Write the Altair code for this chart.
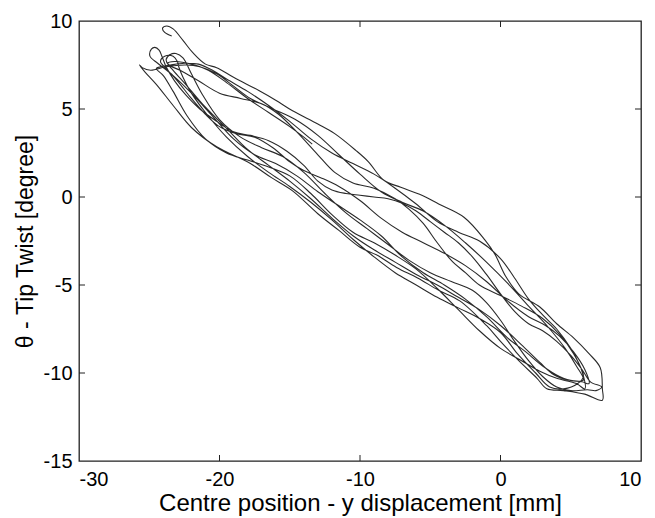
import altair as alt
import pandas as pd

# ---- trajectory branches (x = displacement [mm], y = twist [deg]) ----
d1 = [(-23.4,9.15),(-23.9,9.35),(-24.05,9.6),(-23.75,9.72),(-23.3,9.55),(-22.6,8.9),(-21.9,8.2),
      (-21.0,7.55),(-20.2,7.35),(-19.0,6.8),(-17.2,6.05),(-16.0,5.5),(-14.8,4.9),(-13.0,4.15),
      (-11.8,3.6),(-10.3,2.65),(-9.4,2.0),(-8.3,0.95),(-7.1,0.55),(-5.6,0.1),(-4.4,-0.4),
      (-2.6,-1.15),(-1.1,-2.45),(-0.4,-3.25),(0.4,-4.55),(1.3,-5.5),(2.8,-6.25),(4.0,-7.2),
      (5.2,-8.0),(6.3,-8.9),(7.1,-9.7),(7.25,-10.9),(7.25,-11.55)]
a1 = [(6.0,-11.2),(4.5,-11.0),(3.3,-10.9),(2.6,-10.3),(1.3,-9.3),(0.0,-8.2),(-1.0,-7.3),
      (-2.9,-5.9),(-4.4,-5.3),(-5.9,-4.6),(-7.4,-4.0),(-8.8,-3.3),(-10.0,-2.85),(-11.5,-1.9),
      (-13.0,-0.95),(-14.8,0.35),(-16.3,1.1),(-17.8,1.9),(-20.2,2.85),(-22.0,3.95),(-23.3,5.2),
      (-24.5,6.4),(-25.3,7.1),(-25.7,7.5)]
d2 = [(-25.5,7.35),(-24.9,7.2),(-23.8,7.4),(-22.4,7.5),(-21.4,7.4),(-20.2,7.0),(-19.0,6.3),
      (-17.8,5.6),(-16.2,5.0),(-14.6,4.4),(-13.0,3.5),(-11.5,2.4),(-10.0,1.3),(-8.5,0.3),
      (-7.0,-0.3),(-5.5,-0.8),(-4.0,-1.6),(-2.5,-2.6),(-1.0,-3.7),(0.5,-4.9),(2.0,-6.2),
      (3.4,-7.4),(4.6,-8.6),(5.4,-9.6),(5.9,-10.4)]
a2 = [(5.2,-10.45),(4.2,-10.2),(3.0,-9.6),(1.8,-8.8),(0.5,-8.0),(-1.0,-6.8),(-2.5,-5.8),
      (-4.0,-5.0),(-5.5,-4.3),(-7.0,-3.4),(-8.5,-2.2),(-10.0,-1.3),(-11.5,-0.5),(-13.0,0.3),
      (-14.5,1.2),(-16.0,1.9),(-17.5,2.4),(-19.0,3.3),(-20.5,4.6),(-22.0,5.9),(-23.3,6.9),
      (-24.4,7.6),(-24.95,8.0),(-24.85,8.4),(-24.6,8.5),(-24.3,8.35)]
d3 = [(-24.1,8.0),(-23.8,7.4),(-23.2,6.6),(-22.4,5.8),(-21.4,5.0),(-20.2,4.3),(-19.0,3.7),
      (-17.8,3.5),(-16.5,3.2),(-15.2,2.6),(-14.0,1.8),(-13.0,0.9),(-12.0,0.4),(-11.0,0.2),
      (-10.0,0.1),(-9.0,0.0),(-8.0,-0.1),(-7.0,-0.35),(-6.0,-0.8),(-5.0,-1.4),(-4.0,-2.0),
      (-3.0,-2.6),(-2.0,-3.4),(-1.0,-4.4),(0.0,-5.5),(1.0,-6.5),(2.0,-7.2),(3.0,-7.6),
      (4.0,-8.2),(5.0,-9.0),(5.8,-9.8),(6.4,-10.5),(7.2,-10.8)]
a3 = [(6.8,-11.0),(6.2,-10.95),(5.0,-11.0),(4.0,-10.8),(3.0,-10.2),(2.0,-9.3),(1.0,-8.2),
      (0.0,-7.0),(-1.0,-6.0),(-2.0,-5.3),(-3.5,-4.8),(-5.0,-4.3),(-6.5,-3.6),(-8.0,-2.7),
      (-9.5,-1.8),(-11.0,-0.9),(-12.5,0.2),(-14.0,1.4),(-15.5,2.3),(-17.0,2.8),(-18.5,3.4),
      (-20.0,4.4),(-21.2,5.8),(-22.0,7.0),(-22.6,7.9),(-23.1,8.15)]
d4 = [(-23.5,8.1),(-23.8,7.8),(-23.6,7.5),(-22.8,7.2),(-21.5,6.6),(-20.0,5.9),(-18.5,5.6),
      (-17.0,5.3),(-15.8,4.7),(-14.5,3.7),(-13.0,2.4),(-11.8,1.4),(-10.5,0.8),(-9.0,0.5),
      (-7.5,-0.1),(-6.5,-0.7),(-5.5,-1.5),(-4.5,-2.6),(-3.5,-3.6),(-2.5,-4.3),(-1.5,-5.0),
      (0.0,-5.6),(1.5,-6.2),(3.0,-6.9),(4.2,-7.8),(5.2,-8.9),(5.8,-9.9),(6.0,-10.9)]
a4 = [(5.4,-10.6),(4.0,-10.3),(2.8,-9.9),(1.5,-9.3),(0.0,-8.6),(-1.5,-7.6),(-3.0,-6.4),
      (-4.5,-5.2),(-6.0,-4.1),(-7.5,-3.3),(-9.0,-2.6),(-10.5,-2.0),(-12.0,-1.0),(-13.5,0.2),
      (-15.0,1.2),(-16.5,1.7),(-18.0,2.1),(-19.5,2.5),(-21.0,3.3),(-22.3,4.6),(-23.3,6.0),
      (-24.0,6.9),(-24.5,7.3)]
d5 = [(-24.2,7.4),(-23.5,7.5),(-22.5,7.6),(-21.5,7.55),(-20.5,7.2),(-19.5,6.7),(-18.0,6.0),
      (-16.5,5.2),(-15.0,4.3),(-13.5,3.3),(-12.0,2.5),(-10.5,1.9),(-9.0,1.3),(-7.5,0.5),
      (-6.0,-0.4),(-4.5,-1.4),(-3.0,-2.0),(-1.5,-2.5),(0.0,-3.5),(1.0,-4.6),(2.0,-5.8),
      (3.0,-6.7),(4.0,-7.5),(5.0,-8.6),(5.6,-9.5),(5.9,-10.2)]
a5 = [(5.5,-10.6),(4.5,-10.9),(3.5,-10.8),(2.5,-10.0),(1.2,-8.9),(0.0,-7.7),(-1.5,-6.9),
      (-3.0,-6.3),(-4.5,-5.7),(-6.0,-5.0),(-7.5,-4.3),(-9.0,-3.4),(-10.5,-2.4),(-12.0,-1.3),
      (-13.5,-0.3),(-15.0,0.6),(-16.5,1.4),(-18.0,2.3),(-19.5,3.4),(-21.0,4.8),(-22.0,5.9),
      (-22.6,6.8),(-22.9,7.4),(-23.0,7.7)]
d6 = [(-23.3,8.0),(-23.9,8.0),(-24.2,7.7),(-23.8,7.3),(-23.0,6.6),(-22.0,5.6),(-21.0,4.7),
      (-20.0,4.0),(-18.8,3.6),(-17.5,3.4),(-16.2,2.8),(-15.0,2.0),(-14.0,1.5),(-12.8,1.1),
      (-11.5,0.6),(-10.0,-0.2),(-8.5,-1.2),(-7.0,-2.0),(-5.5,-2.6),(-4.0,-3.2),(-2.5,-3.9),
      (-1.0,-4.8),(0.5,-5.9),(2.0,-6.8),(3.2,-7.3),(4.2,-7.9),(5.2,-8.8),(6.0,-9.8),(6.3,-10.6)]
a6 = [(5.8,-10.5),(4.8,-10.4),(3.8,-10.1),(2.8,-9.4),(1.5,-8.4),(0.0,-7.3),(-1.5,-6.4),
      (-3.0,-5.7),(-4.5,-5.0),(-6.0,-4.4),(-7.5,-3.7),(-9.0,-3.0),(-10.5,-2.2),(-12.0,-1.2),
      (-13.5,-0.1),(-15.0,0.9),(-16.5,1.8),(-18.0,2.7),(-19.5,3.9),(-21.0,5.1),(-22.3,6.3),
      (-23.3,7.2),(-23.7,7.6)]
d7 = [(-23.2,7.7),(-22.0,7.55),(-20.8,7.2),(-19.5,6.5),(-18.0,5.6),(-16.5,4.8),(-15.0,4.0),
      (-14.0,3.4),(-13.4,3.0)]

branches = [d1, a1, d2, a2, d3, a3, d4, a4, d5, a5, d6, a6, d7]

x_ticks = [-30, -20, -10, 0, 10]
y_ticks = [-15, -10, -5, 0, 5, 10]

rows = []
k = 0
for br in branches:
    for (x, y) in br:
        rows.append({"x": x, "y": y, "k": k})
        k += 1
df = pd.DataFrame(rows)

W, H = 562, 440
xs = alt.Scale(domain=[-30, 10], nice=False, zero=False)
ys = alt.Scale(domain=[-15, 10], nice=False, zero=False)
FONT = "Liberation Sans"
LBL = "'' + datum.value"

line = alt.Chart(df).mark_line(color="#2a2a2a", strokeWidth=1.1, interpolate="catmull-rom", clip=True).encode(
    x=alt.X("x:Q", scale=xs,
            axis=alt.Axis(values=x_ticks, ticks=False, domain=False, grid=False, labelExpr=LBL,
                          labelFont=FONT, labelFontSize=20, labelColor="black", labelPadding=8,
                          title="Centre position - y displacement [mm]", titleFont=FONT,
                          titleFontSize=24, titleFontWeight="normal", titleColor="black",
                          titleBaseline="alphabetic", titleY=49)),
    y=alt.Y("y:Q", scale=ys,
            axis=alt.Axis(values=y_ticks, ticks=False, domain=False, grid=False, labelExpr=LBL,
                          labelFont=FONT, labelFontSize=20, labelColor="black", labelPadding=7,
                          title="θ - Tip Twist [degree]", titleFont=FONT,
                          titleFontSize=23, titleFontWeight="normal", titleColor="black",
                          titleBaseline="alphabetic", titleX=-47)),
    order="k:Q",
)

xt = pd.DataFrame({"v": x_ticks[1:-1]})
yt = pd.DataFrame({"v": y_ticks[1:-1]})
tick_style = dict(color="#222", strokeWidth=1)
bt = alt.Chart(xt).mark_rule(**tick_style).encode(x=alt.X("v:Q", scale=xs), y=alt.value(H), y2=alt.value(H - 6))
tt = alt.Chart(xt).mark_rule(**tick_style).encode(x=alt.X("v:Q", scale=xs), y=alt.value(0), y2=alt.value(6))
lt = alt.Chart(yt).mark_rule(**tick_style).encode(y=alt.Y("v:Q", scale=ys), x=alt.value(0), x2=alt.value(6))
rt = alt.Chart(yt).mark_rule(**tick_style).encode(y=alt.Y("v:Q", scale=ys), x=alt.value(W), x2=alt.value(W - 6))

chart = alt.layer(line, bt, tt, lt, rt).properties(
    width=W, height=H,
    padding={"left": 79, "top": 21, "right": 14, "bottom": 57},
    autosize=alt.AutoSizeParams(type="none"),
    background="white",
).configure_view(stroke="#222", strokeWidth=1.3)

chart.save("out.html", embed_options={"renderer": "svg", "actions": False})
